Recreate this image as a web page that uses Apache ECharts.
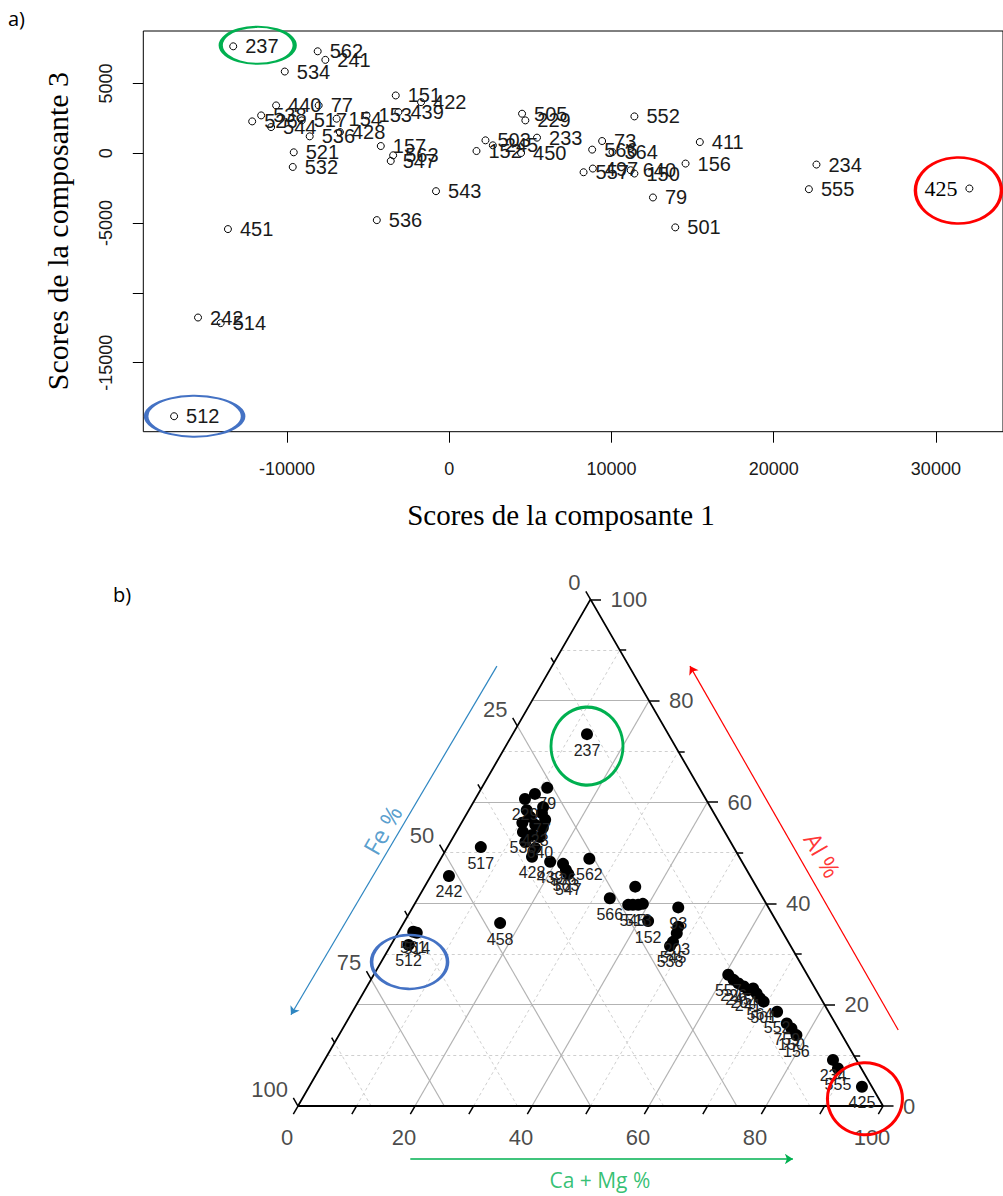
<!DOCTYPE html>
<html><head><meta charset="utf-8">
<script src="https://cdn.jsdelivr.net/npm/echarts@6/dist/echarts.min.js"></script>
<style>html,body{margin:0;padding:0;background:#fff}#c{width:1003px;height:1196px}</style>
</head><body><div id="c"></div>
<script>
// ---------- Panel a) PCA scores ----------
const topNames = ['237','562','241','534','151','422','440','77','538','526','544','517','154','153','439','428','536','157','547','563','521','532','543','505','229','503','152','245','450','233','73','566','364','497','557','640','150','552','411','156','79','501','234','555','425','451','536','242','514','512'];
const topX = [-13320,-8113,-7640,-10141,-3300,-1740,-10676,-8052,-11598,-12151,-10983,-9096,-6945,-5101,-3135,-6742,-8605,-4222,-3608,-3460,-9588,-9650,-818,4487,4690,2231,1678,2686,4425,5409,9423,8809,10061,8851,8279,11186,11413,11413,15446,14567,12557,13933,22637,22170,32065,-13645,-4468,-15489,-14093,-16964];
const topY = [7664,7307,6693,5857,4143,3664,3429,3429,2714,2286,1879,2357,2479,2714,2950,1521,1214,521,-550,-143,71,-979,-2714,2836,2357,929,164,571,21,1121,879,264,93,-1093,-1357,-1214,-1450,2643,807,-736,-3164,-5307,-807,-2571,-2521,-5429,-4786,-11764,-12164,-18836];
const xTickValues = [-10000,0,10000,20000,30000];
const yTickValues = [-15000,-10000,-5000,0,5000];
const yLabelValues = [-15000,-5000,0,5000];

// ---------- Panel b) ternary diagram (Ca+Mg %, Al %, Fe %) ----------
const ternNames = ['237','79','','229','','','77','','','','423','','538','','640','','','428','517','439','536','563','547','562','242','458','561','514','512','566','','','545','513','','152','93','','203','545','538','557','226','245','204','241','','','564','501','552','759','150','156','234','555','425'];
const ternCa = [12.7,11.2,9.7,8.5,12.4,9.9,12.8,11.1,14.0,10.4,12.8,14.4,11.4,13.3,14.8,12.8,15.1,15.4,5.7,19.0,21.4,22.5,23.3,25.4,3.1,16.5,2.5,3.2,3.0,32.8,36.0,36.6,37.4,38.3,39.0,41.6,45.4,47.3,47.7,47.9,47.8,60.6,62.0,63.2,64.4,65.5,66.2,67.3,68.3,69.3,72.6,75.4,76.7,78.2,86.9,88.6,94.5];
const ternAl = [73.4,62.8,61.6,60.6,59.0,58.4,57.8,57.1,56.5,55.9,55.5,54.9,54.1,53.5,53.1,52.1,50.9,49.2,51.1,48.2,47.8,46.6,45.8,48.8,45.4,36.1,34.4,34.2,31.8,41.0,43.3,39.7,39.7,39.7,39.9,36.5,39.2,35.4,34.1,32.4,31.6,25.9,24.9,24.2,23.6,22.9,23.2,22.2,21.3,20.6,18.6,16.3,15.3,14.0,9.1,7.4,3.8];
const ternFe = ternCa.map((c,i)=>+(100-c-ternAl[i]).toFixed(1));
const caTicks = [0,10,20,30,40,50,60,70,80,90,100];
const caLabels = [0,20,40,60,80,100];
const alTicks = [0,10,20,30,40,50,60,70,80,90,100];
const alLabels = [0,20,40,60,80,100];
const feTicks = [0,12.5,25,37.5,50,62.5,75,87.5,100];
const feLabels = [0,25,50,75,100];
const gridMajorCa = [20,40,60,80], gridMinorCa = [10,30,50,70,90];
const gridMajorAl = [20,40,60,80], gridMinorAl = [10,30,50,70,90];
const gridMajorFe = [25,50,75],   gridMinorFe = [12.5,37.5,62.5,87.5];

const S3 = Math.sqrt(3)/2;
function tp(ca, al){ return [ca + al/2, al*S3]; }

const chart = echarts.init(document.getElementById('c'), null, {renderer:'svg'});

function segCa(c){ return {coords:[tp(c,0), tp(c,100-c)]}; }
function segAl(a){ return {coords:[tp(0,a), tp(100-a,a)]}; }
function segFe(f){ return {coords:[tp(100-f,0), tp(0,100-f)]}; }
const majorSegs = gridMajorCa.map(segCa).concat(gridMajorAl.map(segAl), gridMajorFe.map(segFe));
const minorSegs = gridMinorCa.map(segCa).concat(gridMinorAl.map(segAl), gridMinorFe.map(segFe));

const tickSegs = [];
caTicks.forEach(c=>{ const p=tp(c,0); tickSegs.push({coords:[p,[p[0]-0.5*1.6,p[1]-S3*1.6]]}); });
alTicks.forEach(a=>{ const p=tp(100-a,a); const L=(a%20===0)?1.8:1.1; tickSegs.push({coords:[p,[p[0]+L,p[1]]]}); });
feTicks.forEach(f=>{ const p=tp(0,100-f); const L=(f%25===0)?1.6:1.0; tickSegs.push({coords:[p,[p[0]-0.5*L,p[1]+S3*L]]}); });

const tickLabelData = [];
caLabels.forEach(c=>tickLabelData.push({value:tp(c,0), name:String(c), label:{offset:[-11,31], align:'center', verticalAlign:'middle'}}));
alLabels.forEach(a=>tickLabelData.push({value:tp(100-a,a), name:String(a), label:{offset:[20,0], align:'left', verticalAlign:'middle'}}));
feLabels.forEach(f=>tickLabelData.push({value:tp(0,100-f), name:String(f), label:{offset:[-10,-17], align:'right', verticalAlign:'middle'}}));

const ternPts = ternCa.map((c,i)=>({value:tp(c,ternAl[i]), name:ternNames[i], fe:ternFe[i]}));
function ternByName(n){ const i=ternNames.indexOf(n); return tp(ternCa[i],ternAl[i]); }
function topByName(n){ const i=topNames.indexOf(n); return [topX[i],topY[i]]; }

const GREEN='#00B050', RED='#FF0000', BLUE='#4472C4', FEBLUE='#2E86C1';
const plain = v => String(v);

const option = {
  animation:false,
  backgroundColor:'#fff',
  grid:[
    {left:143.3, top:31, width:862.7, height:400.7, show:true, borderColor:'#000', borderWidth:1, backgroundColor:'transparent'},
    {left:5.5, top:521, width:994.5, height:672.75, show:false}
  ],
  xAxis:[
    {type:'value', gridIndex:0, min:-18863, max:34137, position:'bottom',
     axisLine:{show:false, onZero:false}, splitLine:{show:false},
     axisTick:{show:true, length:11, customValues:xTickValues, lineStyle:{color:'#000', width:1}},
     axisLabel:{customValues:xTickValues, formatter:plain, margin:28, fontSize:18, fontFamily:'Liberation Sans', color:'#1a1a1a'}},
    {type:'value', gridIndex:1, min:-50, max:120, show:false}
  ],
  yAxis:[
    {type:'value', gridIndex:0, min:-19943, max:8761, position:'left',
     axisLine:{show:false, onZero:false}, splitLine:{show:false},
     axisTick:{show:true, length:10.5, customValues:yTickValues, lineStyle:{color:'#000', width:1}},
     axisLabel:{customValues:yLabelValues, formatter:plain, rotate:90, margin:28, fontSize:18, fontFamily:'Liberation Sans', color:'#1a1a1a'}},
    {type:'value', gridIndex:1, min:-15, max:100, show:false}
  ],
  graphic:[
    {type:'text', left:8, top:8, style:{text:'a)', font:'20px "Open Sans"', fill:'#000'}},
    {type:'text', left:113, top:584, style:{text:'b)', font:'20px "Open Sans"', fill:'#000'}},
    {type:'text', x:561, y:515, style:{text:'Scores de la composante 1', font:'29px "Liberation Serif"', fill:'#000', align:'center', verticalAlign:'middle'}},
    {type:'text', x:57, y:231, rotation:Math.PI/2, style:{text:'Scores de la composante 3', font:'30px "Liberation Serif"', fill:'#000', align:'center', verticalAlign:'middle'}}
  ],
  series:[
    {type:'scatter', xAxisIndex:0, yAxisIndex:0, symbol:'circle', symbolSize:7,
     itemStyle:{color:'rgba(0,0,0,0)', borderColor:'#000', borderWidth:1, opacity:1},
     label:{show:true, position:'right', distance:8, formatter:'{b}', fontSize:20, fontFamily:'Liberation Sans', color:'#1a1a1a'},
     data: topNames.map((n,i)=> n==='425'
        ? {name:n, value:[topX[i],topY[i]], label:{position:'left', distance:8, fontFamily:'Liberation Serif', fontSize:22, color:'#000'}}
        : {name:n, value:[topX[i],topY[i]]}),
     z:5},
    {type:'scatter', xAxisIndex:0, yAxisIndex:0, symbol:'circle', clip:false, silent:true,
     data:[
       {value:topByName('237'), symbolSize:[74,37], symbolOffset:[24.5,-1], itemStyle:{color:'rgba(0,0,0,0)', borderColor:GREEN, borderWidth:3, opacity:1}},
       {value:topByName('425'), symbolSize:[86,66], symbolOffset:[-11,2], itemStyle:{color:'rgba(0,0,0,0)', borderColor:RED, borderWidth:3, opacity:1}},
       {value:topByName('512'), symbolSize:[97,41], symbolOffset:[20.5,0], itemStyle:{color:'rgba(0,0,0,0)', borderColor:BLUE, borderWidth:3, opacity:1}}
     ], z:6},
    {type:'lines', coordinateSystem:'cartesian2d', xAxisIndex:1, yAxisIndex:1, silent:true,
     lineStyle:{color:'#cfcfcf', width:1, type:[3,3], opacity:1}, data:minorSegs, z:1},
    {type:'lines', coordinateSystem:'cartesian2d', xAxisIndex:1, yAxisIndex:1, silent:true,
     lineStyle:{color:'#b3b3b3', width:1.2, opacity:1}, data:majorSegs, z:1},
    {type:'line', xAxisIndex:1, yAxisIndex:1, symbol:'none', silent:true,
     lineStyle:{color:'#000', width:1.8}, data:[tp(0,0), tp(100,0), tp(0,100), tp(0,0)], z:3},
    {type:'lines', coordinateSystem:'cartesian2d', xAxisIndex:1, yAxisIndex:1, silent:true,
     lineStyle:{color:'#000', width:1.5, opacity:1}, data:tickSegs, z:3},
    {type:'scatter', xAxisIndex:1, yAxisIndex:1, symbolSize:0, silent:true,
     label:{show:true, position:'inside', formatter:'{b}', fontSize:22, fontFamily:'Liberation Sans', color:'#1a1a1a'},
     data:tickLabelData, z:4},
    {type:'scatter', xAxisIndex:1, yAxisIndex:1, symbol:'circle', symbolSize:12,
     itemStyle:{color:'#000', opacity:1},
     label:{show:true, position:'bottom', distance:2, formatter:'{b}', fontSize:16, fontFamily:'Liberation Sans', color:'#222'},
     data:ternPts, z:5},
    {type:'scatter', xAxisIndex:1, yAxisIndex:1, symbol:'circle', clip:false, silent:true,
     data:[
       {value:ternByName('237'), symbolSize:[72,78], symbolOffset:[0,12], itemStyle:{color:'rgba(0,0,0,0)', borderColor:GREEN, borderWidth:3, opacity:1}},
       {value:ternByName('512'), symbolSize:[76,54], symbolOffset:[1,17], itemStyle:{color:'rgba(0,0,0,0)', borderColor:BLUE, borderWidth:3, opacity:1}},
       {value:ternByName('425'), symbolSize:[75,72], symbolOffset:[3,12], itemStyle:{color:'rgba(0,0,0,0)', borderColor:RED, borderWidth:3, opacity:1}}
     ], z:6},
    {type:'lines', coordinateSystem:'cartesian2d', xAxisIndex:1, yAxisIndex:1, silent:true,
     symbol:['none','arrow'], symbolSize:8,
     data:[
       {coords:[[34.0,75.2],[-1.2,15.6]], lineStyle:{color:FEBLUE, width:1.2, opacity:1}},
       {coords:[[102.6,13.0],[67.0,75.2]], lineStyle:{color:RED, width:1.2, opacity:1}},
       {coords:[[19.2,-9.06],[84.6,-9.06]], lineStyle:{color:GREEN, width:1.5, opacity:1}}
     ], z:4},
    {type:'scatter', xAxisIndex:1, yAxisIndex:1, symbolSize:0, silent:true, clip:false,
     label:{show:true, position:'inside', formatter:'{b}', fontSize:24, fontFamily:'Open Sans'},
     data:[
       {value:[14.4,47.2], name:'Fe %', label:{rotate:60, color:FEBLUE}},
       {value:[89.7,42.9], name:'Al %', label:{rotate:-60, color:RED}},
       {value:[51.6,-12.7], name:'Ca + Mg %', label:{color:GREEN, fontSize:21}}
     ], z:4}
  ]
};
chart.setOption(option);
</script></body></html>
